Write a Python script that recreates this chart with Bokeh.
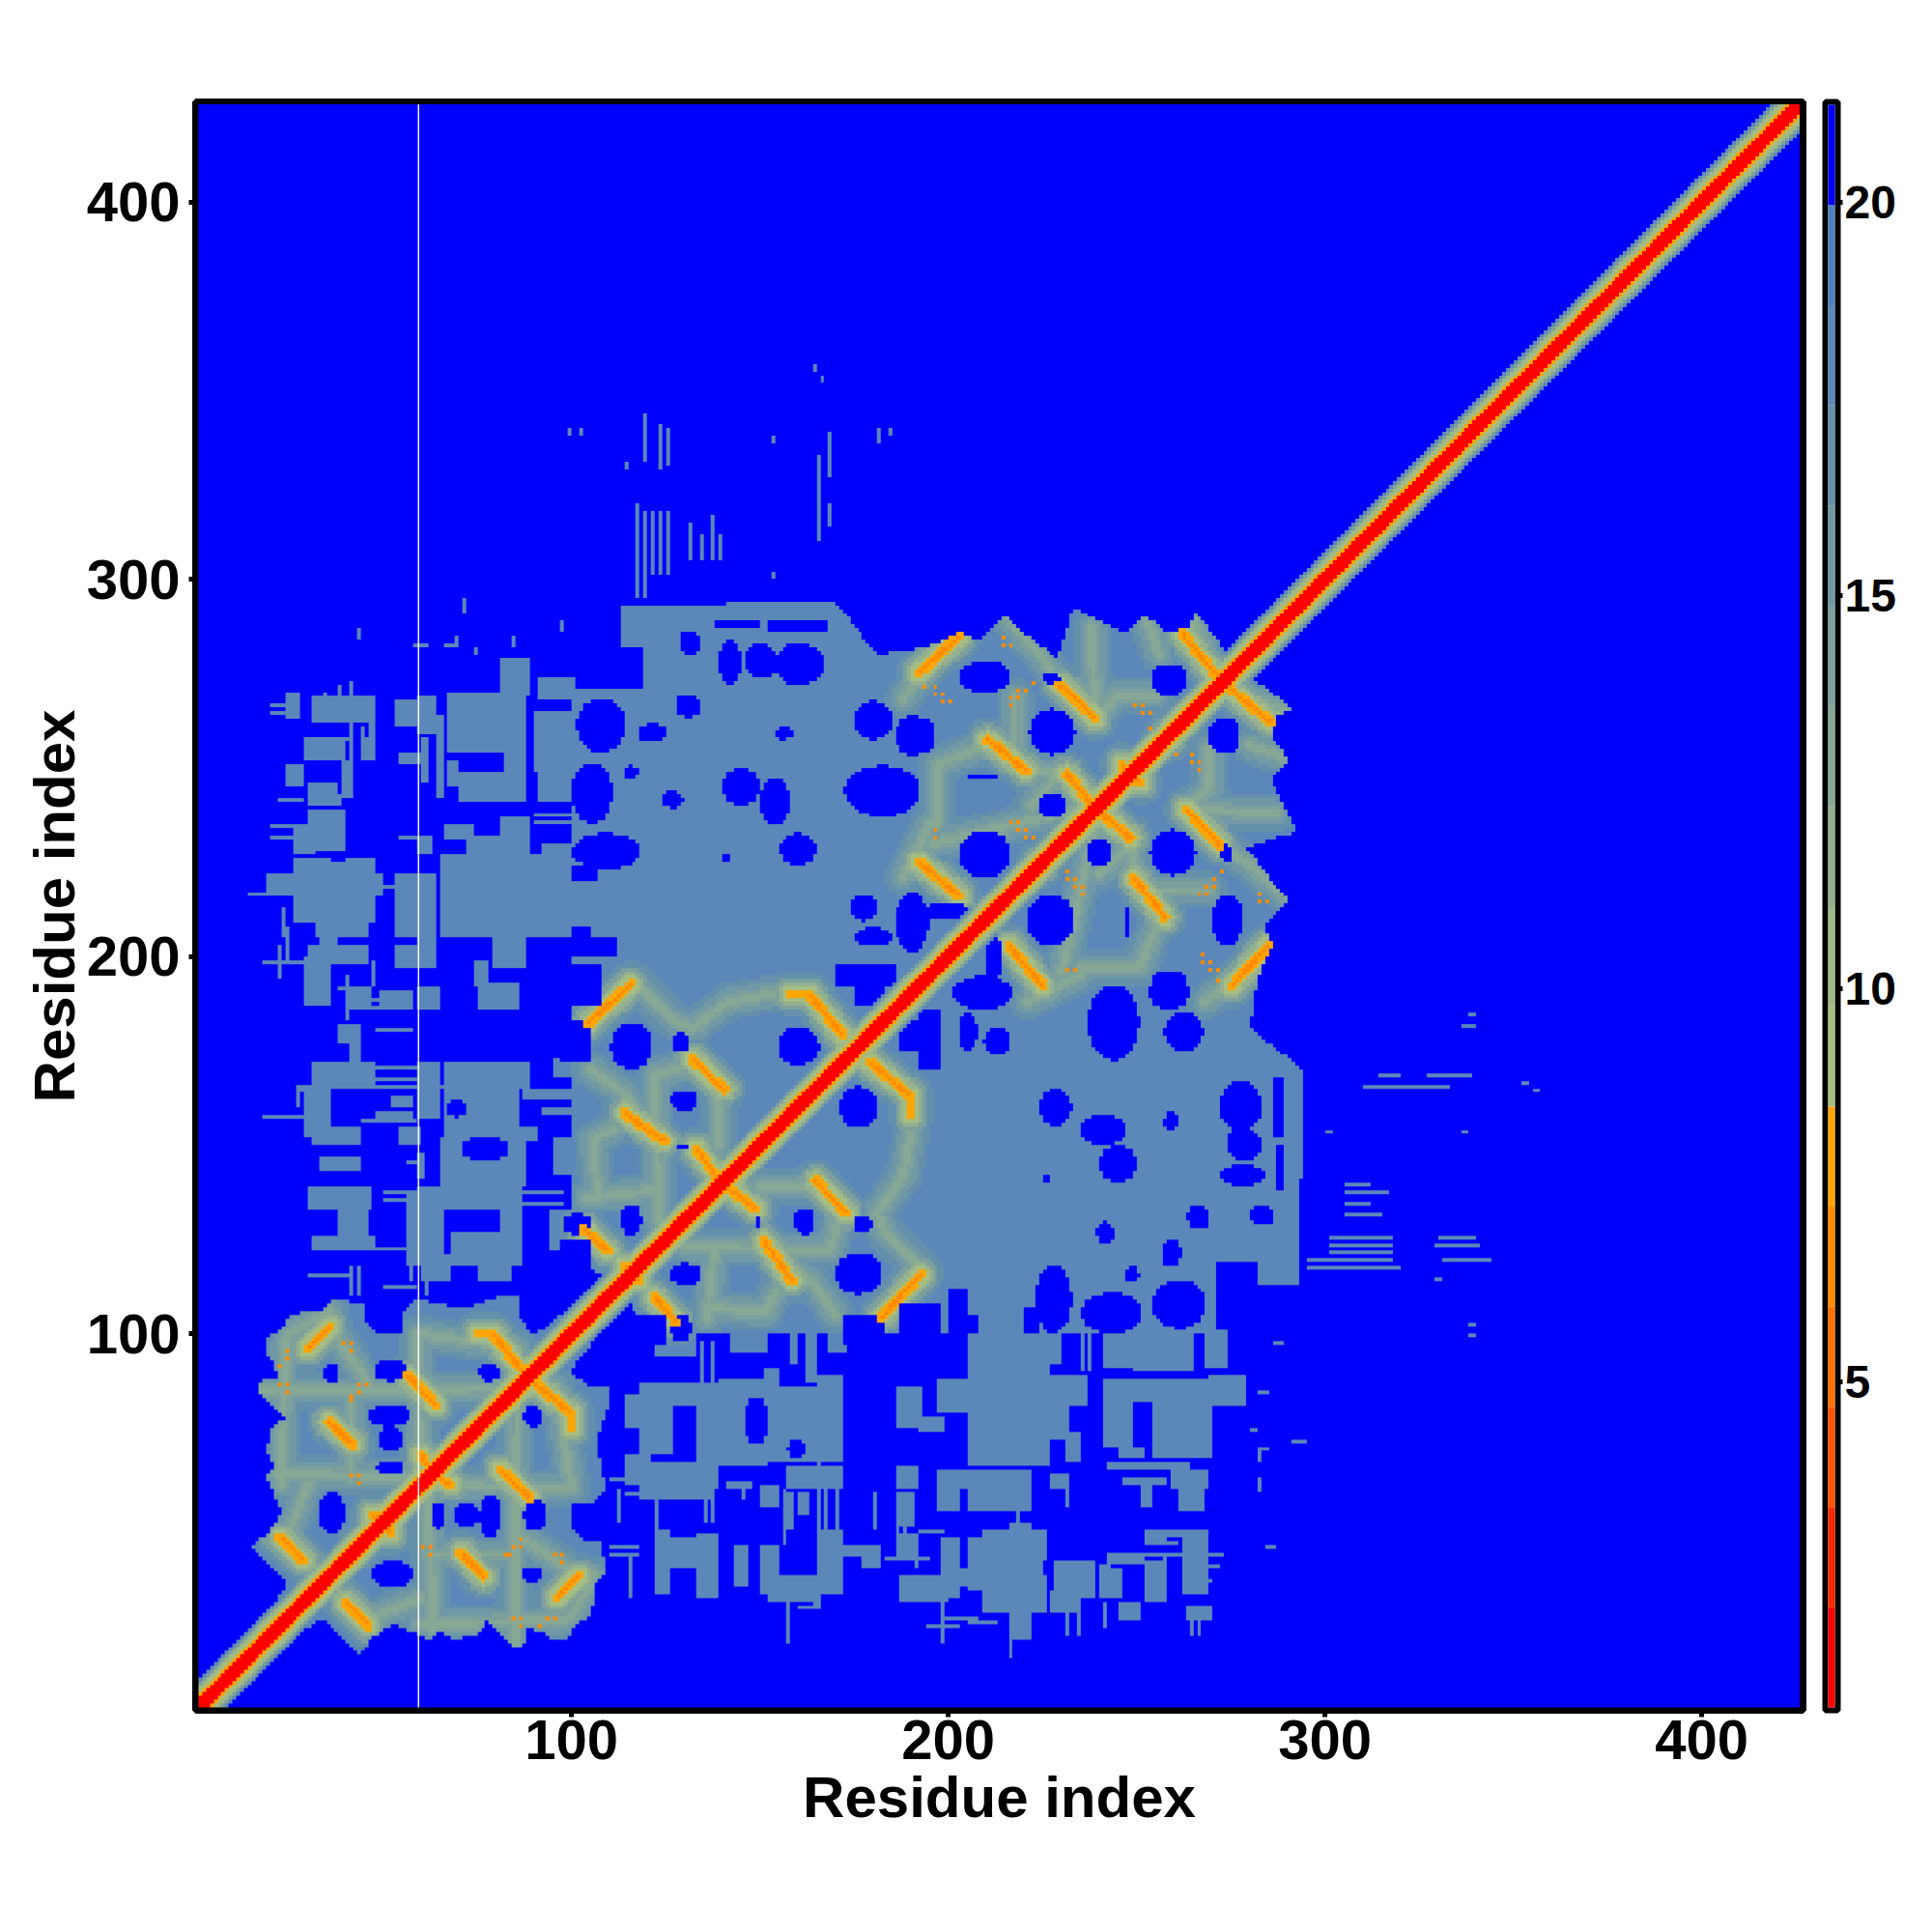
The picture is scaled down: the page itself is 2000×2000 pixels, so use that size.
import numpy as np
from bokeh.plotting import figure
from bokeh.layouts import row
from bokeh.models import LinearColorMapper, FixedTicker, Range1d, Arrow
from bokeh.embed import file_html
from bokeh.resources import INLINE

RES_MIN, RES_MAX = 1, 426
TICKS = [100, 200, 300, 400]
CB_TICKS = [5, 10, 15, 20]
CB_LOW, CB_HIGH = 0.86, 21.24
CB_COLORS = ["#FF0000", "#FF2A00", "#FF5500", "#FF7000", "#FF8C00", "#FFA500",
             "#A6BE82", "#9EB888", "#94B08F", "#88A896", "#7DA09C", "#7099A5",
             "#6590AC", "#5B88B8", "#5080BD", "#0000FF"]
BLUE, STEEL, ORANGE, ORANGE2 = 21.0, 18.0, 7.8, 6.8

# value by distance from the diagonal
DIAG_VALUES = [1.2, 1.2, 1.5, 7.8, 9.5, 11.0, 14.0, 18.0]

# outlines of the regions with values below 20 (residue x, residue y)
POLY_A = [(16,20),(20,27),(24,33),(24,35),(19,39.5),(15,44),(19,46.5),(22,50.6),(23,53),(21,57.5),
          (19,62.6),(21,65),(19,69.4),(21,76.3),(24,77),(20,81.4),(17,84.8),(17.6,87.4),(22,88.2),
          (21,92.5),(19,95),(19,98.5),(24,102),(25,105.3),(34,106),(37,109),(45,108),(45,103),
          (49,100),(55,100),(55,106),(59,109),(72,106.6),(80,109.6),(86,109.6),(86,104.5),
          (89.5,100),(94,102),(101,109.6),(107.4,114.7),(115,120.7),(115,115),(16,16)]
POLY_MID = [(100,120),(107,116),(112,112),(273,273),(274,280.5),(269,287),(265.5,290.7),(263,286.5),
            (257,286.5),(252,290.7),(246.7,285.6),(238,290),(233,292.4),(229,279),(220,285.6),
            (215,290.7),(209,284),(203,285),(193.7,282),(181,280),(170,294),(113,293),(113,278),
            (118.5,271),(100,271)]

# patches x0, x1, y0, y1
PATCH_X0 = [24,31,53.5,59.5,29,30.5,24.5,30.5,26,26,19,65,53.5,66,81,70.5,73,67,81,67,82.5,90,91,91,92,
            29.5,30.5,40,53.5,59.5,59.5,75,74,79,38,41.5,31,29.5,31,66,71.5,66,95,59.5,54.5,59.5,65.5,
            95,33,30.5,38,31,56,59.5,66,81,68,94.5,64,60,44,
            33,36.5,49,27,52,48,66,87,92,60,75,39,30,54,67,32,59.5,72]
PATCH_X1 = [28,48,64,64,41,38,28.5,40,32,48,50,102,64,74,88.5,88,88,88,88.5,70,88,101,101,101,102,
            35.5,37.5,47,59.5,64,64.5,86,77.5,87.5,44,44,48,35.5,44,88.5,86,91,102,64.5,59.5,61,88,
            102,44,46.5,46,48,59.5,66,81,87,81,102,66,62,48,
            38,46,58,31,58,58,72,102,102,68,84,41.5,39,59.5,73,46,63,89]
PATCH_Y0 = [263,262,261,259,252,241,245,228,227.5,209.5,216,205,205,231,224,241,254,264,269,245,249,249,268.5,241,227,
            187,199,186.5,197.5,197,185.7,185.7,192.5,197.5,177,170,165,152.5,150.5,165,155,151.5,168,157,150.5,141,139.5,
            142,143,133.5,126,121.6,118,118,133,118,118,122,242,246,252,
            202,198,187,164,160,156.5,155,162,158,114,114,242,240,251.5,254,205.5,227,224]
PATCH_Y1 = [270,268.5,268,269,258,246,251,238.6,233.5,226,221.5,227,222,235,237,249,264,270,279,252,254,265,273.5,249,230,
            200,203,191,203,208,192,193,199,205,181.5,177,172,165,155,172,165,155,173,172,155,148,151.5,
            152,147,138.7,134,126,138,139,139.5,139,127,133,264,258,262,
            206,203,191,166,163,158.5,165,165,160,121,119,254,243,254,264,209.5,232,232]

# blue openings drawn as rounded blobs: x0, x1, y0, y1
HOLE_X0 = [34.3,47.5,46,49,48.4,75.3,32.6,110.4,126.7,154.5,126.3,113,98,127.5,101.4,127.5,117.6,175,186,100,114,123.6,
           140,150,153.5,172.4,100,155.3,140.3,186,174,175,128.7,139,146,153.5,202.7,221.5,253.5,224.5,223.6,202.7,192,205,
           220.6,192,209.5,70.5,68,36,40,67]
HOLE_X1 = [38,56,57.4,55,55,81,39.8,121.5,131.4,165.6,133.5,118.6,105,131,114.2,134.3,125.3,185,194.6,110.8,117.7,129.6,
           150,158,158.7,192.4,118.5,164.7,142.4,194.6,181,185,134,145,154.4,167,216.4,233.5,263.4,229.6,231.3,216.4,196.3,213,
           233.5,206.5,214.6,83.5,81,40,46,72]
HOLE_Y0 = [86.5,87.4,75.4,68.6,62.6,87.4,47,170,174.6,171.2,159.2,126,126,148.5,254,263.4,256.5,257.4,253,235,246.7,239.4,
           240,235,257.4,237,223,224,224.5,201,209.5,202.7,280,272,273.6,272,269.8,253.5,269,272.4,237,220.6,254,247,
           203,209.5,201,146,126.7,157,159,157.5]
HOLE_Y1 = [92.5,93.5,81.4,75.4,66.4,92,58,182.3,180,181.4,164.4,134.4,132,150.3,268.5,269.4,261.7,267.6,264,251.4,250.6,243.7,
           250,247,260.8,250.6,232.6,232.6,227.5,217,216.4,207.8,286.5,284,283,283,278.3,265.5,277.5,275.3,243.3,233.5,263,248.5,
           216.4,214,206.5,152,133.5,162,164,162]

# blue rectangles x0, x1, y0, y1
BLUE_X0 = [113.4,97,100,105,100,170,175,97,97,138,152,40,44,36,52,36,29]
BLUE_X1 = [118.5,105,105,111.7,107.4,186,183,108.3,104.5,150,168,43,46,40,56,40,37]
BLUE_Y0 = [271,104,200,200,220,192,187.4,186.6,171.6,287,286.5,252,258,225,243,225,247]
BLUE_Y1 = [282,125,207.8,205,224,197.7,192,197.7,183,289,289,257,262,228,250,228,251]

# single rows and columns of low values: position, start, end
ROW_Y = [267,265,199,186.5,188.5,170.3,168,166,156.6,158,234.3,232,232,217,219,283,283,137.4,136,122.4,236,238,135,138,113,116,181,192,242,146]
ROW_A = [20,20,18,47,47,48,48,48,44,18,20,20,54,14.4,48,58,66,50,50,48,90,90,87,87,50,30,48,38,22,56.5]
ROW_B = [24,24,30,58,58,59,59,70,59,32,30,30,62,20,56,62,70,59,59,59,102,102,98,98,59,42,58,47,29,59]
COL_X = [41.5,38.5,35,25,22.7,40.7,122,124,126,137.7,140,124,126,154,169,167,103,115,185,154,169,74.5,98,96,44,41.5,58,61,62,85,70,48,24,45,28,68,
         118,120,120,132,135,166,165,182,100,44,72]
COL_A = [245,268,268,197.7,194,183,301,301,301,305,305,329,330,336,327,352,338,329,338,300,314,280,286,270,110,110,114,114,110,282,283,192,205,253,160,254,
         295,295,331,305,305,310,355,336,338,284,291]
COL_B = [273,272,270,208,203,195,318,318,318,317,312,341,340,338,339,354,340,331,340,302,320,282,289,274,118,118,120.7,120.7,117,285,285,199,213,261,165,270,
         320,318,344,315,312,333,357,340,340,287,295]

# ridges of medium values: x0, y0, x1, y1
RIDGE = [(23,60,24,98),(17,85,57,85),(22,63,58,62),(41.5,62,41.5,85),(60,62,59,100),(59,100,86,96),(59,85,95,86),
         (25,100,36,106),(36,102,47,85),(30,40,45,30),(43,45,60,60),(24,45,30,60),
         (105,182,116,194),(116,194,127,183),(127,183,132,181),(132,181,141.6,188),
         (141.6,188,152.8,190),(105,170,113,164.4),(113,164.4,124.5,151),(122,168.6,131.4,171),(131.4,171,140,165),
         (105.7,151.5,111,154),(122,168,123,130),(139,165,139,150),(104,136,123,138),(105.7,151,107,136),
         (215,290.7,224.5,279.6),(224.5,279.6,229.6,272),(238,287,239,263),(239,263,245,269.4),(245,269.4,255,269),
         (197,250.6,211,256.5),(221,249,230,249),(230,249,222,240),(217.6,269,217.6,257),(197,250,197,235),
         (196,230,222,236),(222,236,238,240),(188,221,195,235),(188,268,195,278),(252,291,256,280),(265,289,268,282)]

# contact stripes of orange values: x0, y0, x1, y1
STRIPE = [(30,96,36,102),(56.5,89,64,81),(35.6,76.7,42,70.7),(75,100,79,100),(79,100,87,90),(60,68,63,63),
          (22.7,46,28.7,40),(47,52,50,50),(104.5,182.3,115.6,192.6),(158,190,163,190),(163,190,172,179),
          (131.8,173,140.4,164.8),(114,158.5,124.5,151),(133,149,139,141),(102.8,128,109.6,122),(114,118,117.7,114.4),
          (192,275,203,285),(229.6,272,239,263),(210.4,257.4,220.6,249.3),(231.3,248.4,238,240.3),(262,285.6,271.5,274),
          (192,225,203,216),(224,225,227,222),(246,251,248,248),(257,258,262,262)]

# isolated cells x, y
DOT_X = [23,25,25,23,25,25,40,41.5,41.5,41.5,43.5,46,43.5,41.5,41.5,44,44,215,217,215,194,197,197,199,199,200.5,
         217,219,221,223,219,217,250,252,252,254,254,217,219,219,221,221,223,197,197]
DOT_Y = [87,87,85,92,94,96,98,98,96,84,87,87,84.5,82.5,63,63,60.7,285,283,283,271.5,271.5,269.5,269.5,267.5,267.5,
         269,271,271,273,269,267,267,267,265,265,261,236,236,234,234,232,232,234,232]

# ---------------------------------------------------------------- matrix
n = RES_MAX - RES_MIN
cx = np.arange(n) + RES_MIN + 0.5
X, Y = np.meshgrid(cx, cx)
M = np.full((n, n), BLUE)


def in_poly(poly):
    inside = np.zeros_like(X, dtype=bool)
    for (x0, y0), (x1, y1) in zip(poly, poly[1:] + poly[:1]):
        if y0 == y1:
            continue
        cross = ((y0 > Y) != (y1 > Y)) & (X < (x1 - x0) * (Y - y0) / (y1 - y0) + x0)
        inside ^= cross
    return inside


def seg_dist(x0, y0, x1, y1):
    dx, dy = x1 - x0, y1 - y0
    t = np.clip(((X - x0) * dx + (Y - y0) * dy) / max(dx * dx + dy * dy, 1e-6), 0, 1)
    return np.hypot(X - x0 - t * dx, Y - y0 - t * dy)


def one_cell(grid, pos):
    return (grid >= pos - 0.5) & (grid < pos + 0.5)


for poly in (POLY_A, POLY_MID):
    M[in_poly(poly)] = STEEL
for a, b, c, d in zip(PATCH_X0, PATCH_X1, PATCH_Y0, PATCH_Y1):
    M[(X >= a) & (X <= b) & (Y >= c) & (Y <= d)] = STEEL
for a, b, c, d in zip(HOLE_X0, HOLE_X1, HOLE_Y0, HOLE_Y1):
    M[((X - (a + b) / 2) / ((b - a) / 2)) ** 2 + ((Y - (c + d) / 2) / ((d - c) / 2)) ** 2 <= 1] = BLUE
for a, b, c, d in zip(BLUE_X0, BLUE_X1, BLUE_Y0, BLUE_Y1):
    M[(X >= a) & (X <= b) & (Y >= c) & (Y <= d)] = BLUE
for y, a, b in zip(ROW_Y, ROW_A, ROW_B):
    M[one_cell(Y, y) & (X >= a) & (X <= b)] = STEEL
for x, a, b in zip(COL_X, COL_A, COL_B):
    M[one_cell(X, x) & (Y >= a) & (Y <= b)] = STEEL

filled = M < 20
for s in RIDGE:
    dist = seg_dist(*s)
    for reach, val in ((5.0, 17.0), (3.5, 15.5), (2.0, 14.0), (0.9, 12.8)):
        k = (dist < reach) & filled
        M[k] = np.minimum(M[k], val)
for s in STRIPE:
    dist = seg_dist(*s)
    for reach, val in ((6.0, 17.0), (4.5, 14.5), (3.2, 12.0), (2.2, 9.3)):
        k = (dist < reach) & filled
        M[k] = np.minimum(M[k], val)
    M[dist < 1.35] = ORANGE
    M[dist < 0.45] = ORANGE2
for x, y in zip(DOT_X, DOT_Y):
    M[one_cell(X, x) & one_cell(Y, y)] = ORANGE2

upper = Y > X
M = np.where(upper, M, M.T)
for d, val in enumerate(DIAG_VALUES):
    mask = np.abs(X - Y) == d
    M[mask] = np.minimum(M[mask], val)

# ---------------------------------------------------------------- figure
FONT = "Liberation Sans"
scale = 3.9
scale_y = 3.905
x0_lim, x1_lim = RES_MIN - 3 / scale, RES_MIN - 3 / scale + 1664 / scale
y0_lim, y1_lim = RES_MIN - 3 / scale_y, RES_MIN - 3 / scale_y + 1665 / scale_y
p = figure(width=202 + 1664 + 11, height=1992, min_border_left=202, min_border_right=11,
           min_border_top=105, min_border_bottom=222, output_backend="svg", toolbar_location=None,
           x_range=Range1d(x0_lim, x1_lim), y_range=Range1d(y0_lim, y1_lim))
mapper = LinearColorMapper(palette=CB_COLORS, low=CB_LOW, high=CB_HIGH)
p.image(image=[M], x=RES_MIN, y=RES_MIN, dw=n, dh=n, color_mapper=mapper)
p.segment(x0=[59.4], y0=[RES_MIN], x1=[59.4], y1=[RES_MAX], line_color="white", line_width=1.4)

p.grid.visible = False
p.outline_line_color = "black"
p.outline_line_width = 7
for ax in (p.xaxis[0], p.yaxis[0]):
    ax.ticker = FixedTicker(ticks=TICKS)
    ax.axis_label = "Residue index"
    ax.axis_label_text_font = FONT
    ax.axis_label_text_font_style = "bold"
    ax.axis_label_text_font_size = "60px"
    ax.axis_label_text_color = "black"
    ax.major_label_text_font = FONT
    ax.major_label_text_font_style = "bold"
    ax.major_label_text_font_size = "58px"
    ax.major_label_text_color = "black"
    ax.axis_line_color = None
    ax.major_tick_line_color = "black"
    ax.major_tick_line_width = 5
    ax.major_tick_out = 7
    ax.major_tick_in = 0
    ax.minor_tick_line_color = None
p.xaxis[0].major_label_standoff = 3
p.yaxis[0].major_label_standoff = 9
p.xaxis[0].axis_label_standoff = 3
p.yaxis[0].axis_label_standoff = -3
for t in TICKS:
    p.add_layout(Arrow(end=None, x_start=t, y_start=y1_lim, x_end=t, y_end=y1_lim + 6 / scale,
                       line_color="black", line_width=5))
    p.add_layout(Arrow(end=None, x_start=x1_lim, y_start=t, x_end=x1_lim + 6 / scale, y_end=t,
                       line_color="black", line_width=5))

cb_pad = 3 / (1659 / (CB_HIGH - CB_LOW))
cb = figure(width=12 + 13 + 90, height=1992, min_border_left=12, min_border_right=90,
            min_border_top=105, min_border_bottom=222, output_backend="svg", toolbar_location=None,
            x_range=Range1d(-3 / 7, 1 + 3 / 7), y_range=Range1d(CB_LOW - cb_pad, CB_HIGH + cb_pad),
            x_axis_location=None, y_axis_location="right")
edges = np.linspace(CB_LOW, CB_HIGH, len(CB_COLORS) + 1)
cb.quad(left=0, right=1, bottom=edges[:-1], top=edges[1:], fill_color=CB_COLORS, line_color=None)
cb.grid.visible = False
cb.outline_line_color = "black"
cb.outline_line_width = 6
a = cb.yaxis[0]
a.ticker = FixedTicker(ticks=CB_TICKS)
a.axis_line_color = None
a.major_tick_line_color = "black"
a.major_tick_line_width = 5
a.major_tick_out = 5
a.major_tick_in = 0
a.minor_tick_line_color = None
a.major_label_text_font = FONT
a.major_label_text_font_style = "bold"
a.major_label_text_font_size = "48px"
a.major_label_text_color = "black"
a.major_label_standoff = 2

open("out.html", "w").write(file_html(row(p, cb, spacing=0), INLINE))
